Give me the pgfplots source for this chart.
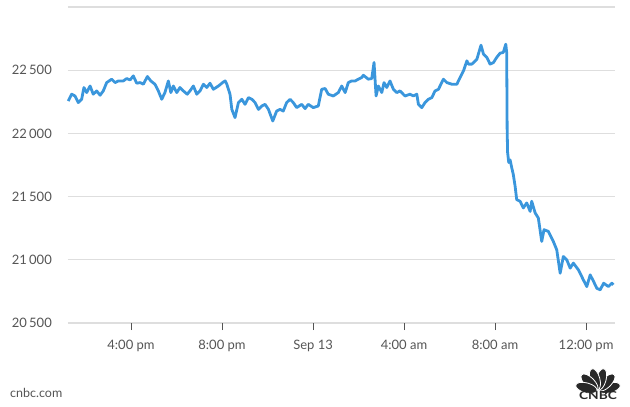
\documentclass[border=0pt]{standalone}
\usepackage{fontspec}
\setmainfont{Lato}
\usepackage{pgfplots}
\pgfplotsset{compat=1.18}
\definecolor{lineblue}{RGB}{58,150,220}
\definecolor{gridgray}{RGB}{222,222,222}
\definecolor{txtgray}{RGB}{85,85,85}
\definecolor{logogray}{RGB}{40,40,40}
\begin{document}
\begin{tikzpicture}[x=1pt,y=1pt]
\path[use as bounding box] (0,0) rectangle (630,407);
\begin{axis}[at={(68pt,84pt)}, anchor=south west, scale only axis,
  width=547pt, height=316pt,
  xmin=13.23, xmax=37.27, ymin=20500, ymax=23000,
  axis line style={draw=none},
  ytick={20500,21000,21500,22000,22500},
  yticklabels={20\,500,21\,000,21\,500,22\,000,22\,500},
  ymajorgrids, grid style={gridgray, line width=1.3pt},
  xtick={16,20,24,28,32,36},
  xticklabels={4:00 pm,8:00 pm,Sep 13,4:00 am,8:00 am,12:00 pm},
  tick align=outside, xtick pos=bottom, major tick length=7pt,
  xtick style={txtgray, line width=1pt},
  ytick style={draw=none},
  ticklabel style={font=\fontsize{13}{15}\selectfont, text=txtgray},
  yticklabel style={inner sep=0pt, anchor=east, xshift=-9pt},
  xticklabel style={yshift=-7pt},
  clip=false]
\draw[gridgray, line width=1.3pt] (rel axis cs:0,1) -- (rel axis cs:1,1);
\addplot[lineblue, line width=2.8pt, line join=round] coordinates {
(13.24,22256) (13.39,22310) (13.54,22296) (13.68,22244) (13.83,22270)
(13.93,22363) (14.05,22323) (14.20,22375) (14.34,22310) (14.49,22336)
(14.64,22302) (14.78,22336) (14.93,22402) (15.15,22429) (15.30,22402)
(15.44,22415) (15.66,22415) (15.81,22434) (15.96,22423) (16.10,22455)
(16.25,22397) (16.40,22402) (16.54,22389) (16.72,22450) (16.87,22415)
(17.05,22389) (17.20,22336) (17.35,22270) (17.49,22323) (17.64,22415)
(17.75,22323) (17.86,22375) (18.01,22323) (18.15,22363) (18.30,22336)
(18.47,22310) (18.59,22336) (18.74,22375) (18.89,22310) (19.03,22336)
(19.18,22389) (19.33,22363) (19.47,22397) (19.62,22349) (19.84,22375)
(20.06,22407) (20.14,22415) (20.21,22389) (20.35,22310) (20.43,22190)
(20.57,22125) (20.72,22244) (20.87,22270) (21.01,22230) (21.16,22283)
(21.31,22270) (21.45,22244) (21.60,22190) (21.75,22217) (21.89,22230)
(22.04,22190) (22.23,22098) (22.40,22177) (22.55,22190) (22.69,22177)
(22.84,22244) (22.99,22270) (23.13,22244) (23.28,22204) (23.50,22230)
(23.65,22196) (23.79,22230) (24.01,22204) (24.23,22217) (24.38,22349)
(24.53,22355) (24.67,22310) (24.89,22296) (25.11,22323) (25.26,22375)
(25.41,22323) (25.55,22402) (25.70,22415) (25.85,22415) (25.99,22429)
(26.14,22442) (26.21,22460) (26.43,22429) (26.58,22434) (26.68,22561)
(26.77,22296) (26.87,22375) (27.02,22323) (27.12,22402) (27.24,22363)
(27.38,22415) (27.53,22349) (27.68,22323) (27.82,22336) (28.04,22296)
(28.26,22310) (28.41,22296) (28.56,22310) (28.63,22230) (28.78,22204)
(28.92,22244) (29.07,22270) (29.22,22283) (29.36,22336) (29.51,22349)
(29.73,22429) (29.88,22402) (30.10,22389) (30.32,22389) (30.46,22442)
(30.61,22494) (30.76,22574) (30.83,22548) (30.98,22548) (31.20,22587)
(31.38,22698) (31.49,22627) (31.64,22601) (31.78,22548) (31.93,22561)
(32.07,22601) (32.22,22635) (32.36,22640) (32.47,22706) (32.51,22640)
(32.53,22032) (32.55,21850) (32.60,21770) (32.66,21790) (32.73,21730)
(32.80,21675) (32.88,21582) (32.95,21476) (33.10,21463) (33.24,21410)
(33.39,21450) (33.54,21383) (33.61,21463) (33.76,21371) (33.90,21331)
(34.05,21145) (34.15,21238) (34.34,21225) (34.56,21145) (34.71,21079)
(34.86,20894) (35.00,21026) (35.15,21000) (35.30,20934) (35.44,20974)
(35.66,20921) (35.88,20841) (36.03,20788) (36.18,20881) (36.33,20828)
(36.47,20775) (36.62,20762) (36.77,20815) (36.98,20788) (37.13,20815)
(37.20,20802)
};
\end{axis}
\node[anchor=base west, inner sep=0pt, text=txtgray, font=\fontsize{12.5}{14}\selectfont] at (10,9) {cnbc.com};
\foreach \a in {15,45,75,105,135,165}{
  \fill[logogray, draw=white, line width=0.8pt] (598,16) ++(\a:12) ellipse[x radius=11, y radius=5, rotate=\a];
}
\node[anchor=base, inner sep=0pt, text=logogray, font=\fontsize{11}{11}\selectfont\bfseries, xscale=1.25] at (598,7) {CNBC};
\end{tikzpicture}
\end{document}
